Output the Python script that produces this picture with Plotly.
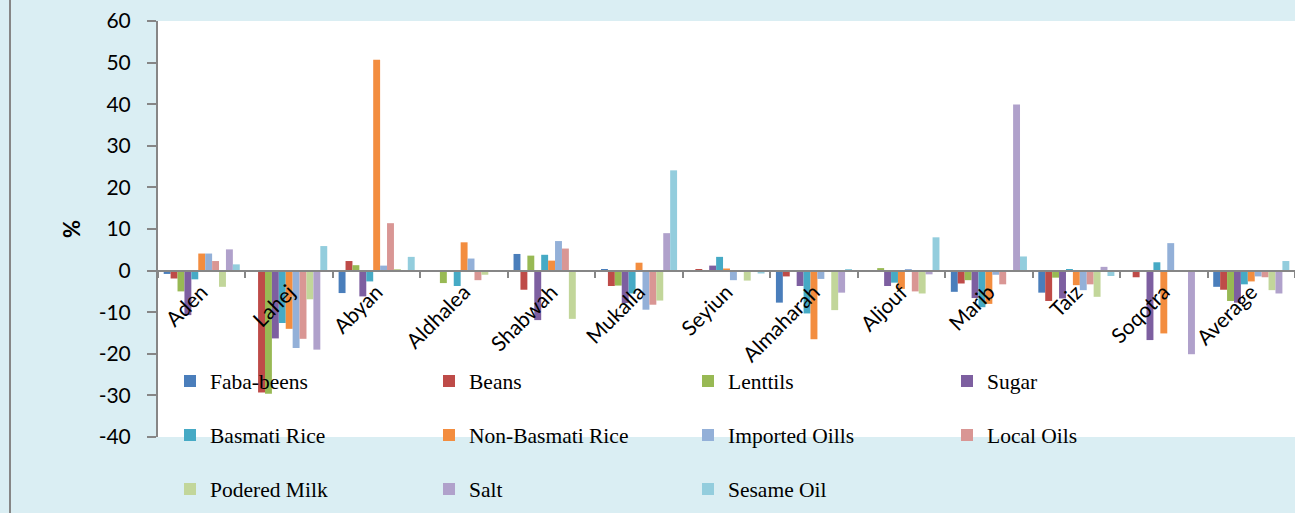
import plotly.graph_objects as go

categories = ["Aden", "Lahej", "Abyan", "Aldhalea", "Shabwah", "Mukalla", "Seyiun",
              "Almaharah", "Aljouf", "Marib", "Taiz", "Soqotra", "Average"]

faba_beens     = [-0.8, 0.0, -5.4, 0.0, 4.0, 0.2, 0.0, -7.7, 0.0, -5.1, -5.3, 0.0, -3.9]
beans          = [-1.9, -29.3, 2.3, 0.0, -4.6, -3.7, 0.2, -1.4, -0.2, -3.1, -7.3, -1.6, -4.6]
lenttils       = [-5.0, -29.6, 1.3, -3.0, 3.6, -3.6, 0.0, 0.0, 0.6, -2.3, -1.7, 0.0, -7.3]
sugar          = [-10.7, -16.3, -6.2, 0.0, -11.9, -7.8, 1.2, -3.7, -3.7, -6.6, -6.7, -16.7, -7.7]
basmati_rice   = [-2.1, -12.6, -2.6, -3.7, 3.8, -5.5, 3.3, -10.3, -2.9, -8.8, 0.2, 2.0, -3.3]
non_basmati    = [4.1, -14.0, 50.7, 6.8, 2.4, 1.9, 0.5, -16.5, -4.4, -8.0, -3.5, -15.1, -2.6]
imported_oills = [4.1, -18.6, 1.2, 2.9, 7.1, -9.4, -2.3, -2.0, 0.3, -1.0, -4.7, 6.6, -1.4]
local_oils     = [2.3, -16.4, 11.4, -2.3, 5.3, -8.2, 0.0, 0.0, -5.0, -3.3, -3.3, 0.1, -1.6]
podered_milk   = [-3.9, -6.9, 0.3, -1.0, -11.6, -7.2, -2.4, -9.5, -5.5, 0.0, -6.3, 0.0, -4.7]
salt           = [5.1, -19.0, 0.0, 0.0, 0.0, 9.0, 0.0, -5.3, -0.9, 39.9, 0.9, -20.1, -5.5]
sesame_oil     = [1.5, 5.9, 3.3, 0.0, 0.0, 24.1, -0.7, 0.3, 8.0, 3.4, -1.3, 0.0, 2.3]

y_tick_values = [60, 50, 40, 30, 20, 10, 0, -10, -20, -30, -40]
y_tick_labels = ["60", "50", "40", "30", "20", "10", "0", "-10", "-20", "-30", "-40"]

series = [
    ("Faba-beens", faba_beens, "#4A7EBB", "legend"),
    ("Beans", beans, "#BE4B48", "legend"),
    ("Lenttils", lenttils, "#98B954", "legend"),
    ("Sugar", sugar, "#7D5FA0", "legend"),
    ("Basmati Rice", basmati_rice, "#46AAC5", "legend2"),
    ("Non-Basmati Rice", non_basmati, "#F38D3F", "legend2"),
    ("Imported Oills", imported_oills, "#93B0D8", "legend2"),
    ("Local Oils", local_oils, "#D99694", "legend2"),
    ("Podered Milk", podered_milk, "#C2D69A", "legend3"),
    ("Salt", salt, "#B0A1CB", "legend3"),
    ("Sesame Oil", sesame_oil, "#93CDDD", "legend3"),
]

fig = go.Figure()
for name, vals, color, lg in series:
    fig.add_trace(go.Bar(x=categories, y=vals, name=name, marker_color=color,
                         marker_line_width=0, legend=lg))

W, H = 1295, 513
L, R, T, B = 158, 0, 21, 76
pw = W - L - R
ph = H - T - B

def px_x(x):
    return (x - L) / pw

def px_y(y):
    return (H - B - y) / ph

legend_common = dict(orientation="h", entrywidth=214, entrywidthmode="pixels",
                     bgcolor="rgba(0,0,0,0)", xanchor="left", yanchor="middle",
                     x=px_x(170), font=dict(family="Liberation Serif", size=21.5, color="#000000"),
                     itemclick=False, itemdoubleclick=False)

fig.update_layout(
    width=W, height=H,
    margin=dict(l=L, r=R, t=T, b=B, pad=0),
    paper_bgcolor="#DAEEF3",
    plot_bgcolor="#FFFFFF",
    barmode="group",
    bargap=0.13,
    bargroupgap=0,
    showlegend=True,
    legend=dict(**legend_common, y=px_y(381)),
    legend2=dict(**legend_common, y=px_y(435)),
    legend3=dict(**legend_common, y=px_y(489)),
    xaxis=dict(
        type="category",
        range=[-0.5, 12.5],
        anchor="free", position=0.4,
        showline=True, linecolor="#868686", linewidth=2,
        ticks="outside", tickson="boundaries", ticklen=6, tickcolor="#868686", tickwidth=2,
        tickangle=-45,
        tickfont=dict(family="Lato", size=21, color="#000000"),
        showgrid=False, zeroline=False,
    ),
    yaxis=dict(
        range=[-40, 60], tickmode="array", tickvals=y_tick_values, ticktext=y_tick_labels,
        showline=True, linecolor="#868686", linewidth=2,
        ticks="outside", ticklen=9, tickcolor="#868686", tickwidth=2,
        ticklabelstandoff=12,
        tickfont=dict(family="Lato", size=21, color="#000000"),
        showgrid=False, zeroline=False,
        title=dict(text="<b>%</b>", font=dict(family="Lato", size=22, color="#000000"), standoff=12),
    ),
    shapes=[dict(type="line", xref="paper", yref="paper",
                 x0=px_x(10), x1=px_x(10), y0=px_y(520), y1=px_y(-10),
                 line=dict(color="#868686", width=2))],
)

fig.write_html(
    "out.html",
    config={"displayModeBar": False},
    post_script="document.body.style.margin='0';document.body.style.overflow='hidden';"
                "document.body.style.background='#DAEEF3';",
)
